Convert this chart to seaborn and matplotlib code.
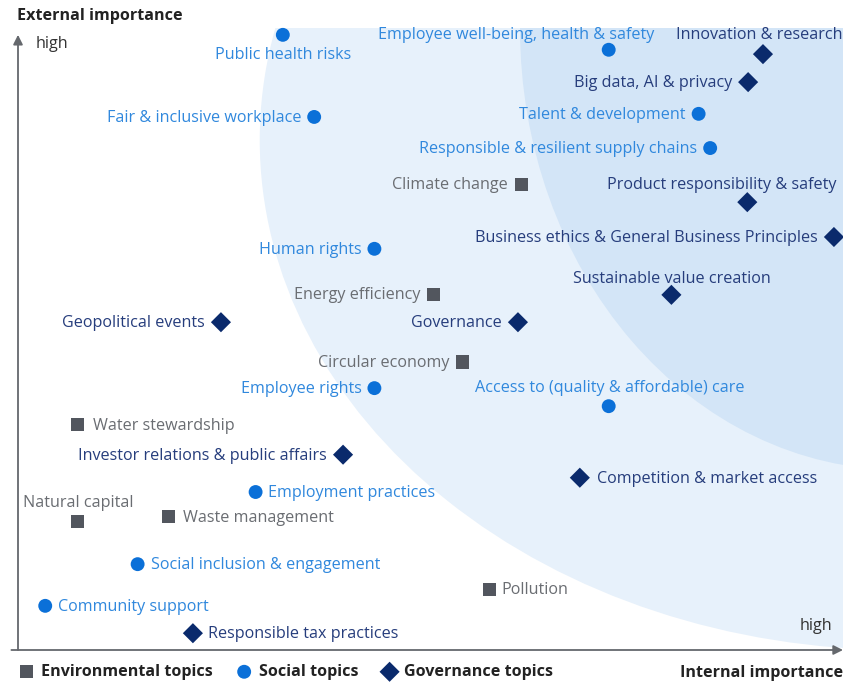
import matplotlib
matplotlib.use("Agg")
import matplotlib.pyplot as plt
from matplotlib.patches import Ellipse
import seaborn as sns
import pandas as pd

# materiality matrix: internal importance (x) vs external importance (y), 0-100
env_topics = ["Climate change", "Energy efficiency", "Circular economy", "Water stewardship",
              "Natural capital", "Waste management", "Pollution"]
env_internal = [61.0, 50.4, 53.9, 7.2, 7.2, 18.3, 57.1]
env_external = [74.9, 57.2, 46.3, 36.2, 20.6, 21.4, 9.8]

soc_topics = ["Public health risks", "Employee well-being, health & safety", "Fair & inclusive workplace",
              "Talent & development", "Responsible & resilient supply chains", "Human rights",
              "Employee rights", "Access to (quality & affordable) care", "Employment practices",
              "Social inclusion & engagement", "Community support"]
soc_internal = [32.1, 71.6, 35.9, 82.5, 83.9, 43.2, 43.2, 71.6, 28.8, 14.5, 3.3]
soc_external = [98.9, 96.5, 85.7, 86.2, 80.7, 64.5, 42.1, 39.2, 25.4, 13.8, 7.1]

gov_topics = ["Innovation & research", "Big data, AI & privacy", "Product responsibility & safety",
              "Business ethics & General Business Principles", "Sustainable value creation",
              "Geopolitical events", "Governance", "Investor relations & public affairs",
              "Competition & market access", "Responsible tax practices"]
gov_internal = [90.3, 88.5, 88.4, 98.9, 79.2, 24.6, 60.6, 39.4, 68.1, 21.2]
gov_external = [95.8, 91.3, 72.0, 66.4, 57.1, 52.7, 52.7, 31.4, 27.7, 2.7]

categories = ["Environmental topics", "Social topics", "Governance topics"]

df = pd.concat([
    pd.DataFrame({"topic": env_topics, "internal": env_internal, "external": env_external, "cat": categories[0]}),
    pd.DataFrame({"topic": soc_topics, "internal": soc_internal, "external": soc_external, "cat": categories[1]}),
    pd.DataFrame({"topic": gov_topics, "internal": gov_internal, "external": gov_external, "cat": categories[2]}),
], ignore_index=True)

marker_color = {categories[0]: "#52565e", categories[1]: "#0b70d8", categories[2]: "#0a2a6c"}
text_color = {categories[0]: "#6a6d72", categories[1]: "#3088dd", categories[2]: "#263d7c"}
marker_shape = {categories[0]: "s", categories[1]: "o", categories[2]: "D"}
marker_size = {categories[0]: 88, categories[1]: 100, categories[2]: 105}

# label placement: (dx, dy) in pixels from the point, horizontal alignment
left_c, left_d = (-13, -1, "right"), (-16, -1, "right")
placement = {
    "Public health risks": (0, -20, "center"),
    "Employee well-being, health & safety": (-93, 15, "center"),
    "Innovation & research": (-4, 19, "center"),
    "Product responsibility & safety": (-26, 17, "center"),
    "Sustainable value creation": (0, 16, "center"),
    "Access to (quality & affordable) care": (1, 18, "center"),
    "Natural capital": (1, 19, "center"),
    "Employment practices": (12, -1, "left"), "Social inclusion & engagement": (13, -1, "left"),
    "Community support": (13, -1, "left"), "Water stewardship": (16, -1, "left"),
    "Waste management": (14, -1, "left"), "Pollution": (12, -1, "left"),
    "Competition & market access": (17, -1, "left"), "Responsible tax practices": (15, -1, "left"),
}

sns.set_style("white")
plt.rcParams["font.family"] = ["Open Sans", "DejaVu Sans"]
FS = 11.6

fig = plt.figure(figsize=(8.43, 6.82), dpi=100)
ax = fig.add_axes([18 / 843, 1 - 650 / 682, 825 / 843, 622 / 682])
ax.set_xlim(0, 100)
ax.set_ylim(0, 100)
ax.axis("off")

# shaded importance zones
ax.add_patch(Ellipse((106.9, 82.0), 155.2, 164.0, facecolor="#e7f1fb", edgecolor="none", zorder=0))
ax.add_patch(Ellipse((106.9, 100.0), 92.1, 142.1, facecolor="#d3e5f7", edgecolor="none", zorder=0))

for cat in categories:
    sub = df[df["cat"] == cat]
    sns.scatterplot(data=sub, x="internal", y="external", marker=marker_shape[cat],
                    s=marker_size[cat], color=marker_color[cat], edgecolor="none",
                    label=cat, ax=ax, zorder=3, clip_on=False)
    for _, r in sub.iterrows():
        dx, dy, ha = placement.get(r["topic"], left_d if cat == categories[2] else left_c)
        ax.annotate(r["topic"], (r["internal"], r["external"]), xytext=(dx, dy),
                    textcoords="offset pixels", ha=ha, va="center", fontsize=FS,
                    color=text_color[cat], zorder=4)

# axis arrows
arrow = dict(arrowstyle="-|>", mutation_scale=14, lw=1.3, color="#65686d", shrinkA=0, shrinkB=0)
ax.annotate("", xy=(0, 98.9), xytext=(0, 0), arrowprops=arrow, annotation_clip=False)
ax.annotate("", xy=(100, 0), xytext=(-0.8, 0), arrowprops=arrow, annotation_clip=False)
ax.text(2.1, 97.5, "high", fontsize=FS, color="#333333", ha="left", va="center")
ax.text(98.7, 3.8, "high", fontsize=FS, color="#333333", ha="right", va="center")

fig.text(17 / 843, 1 - 16 / 682, "External importance", fontsize=FS, fontweight="bold",
         color="#222222", ha="left", va="center")
fig.text(1.0, 1 - 673 / 682, "Internal importance", fontsize=FS, fontweight="bold",
         color="#222222", ha="right", va="center")

ax.legend_.remove()
handles, labels = ax.get_legend_handles_labels()
leg = fig.legend(handles, labels, loc="center left", bbox_to_anchor=(12 / 843, 1 - 672 / 682),
                 ncol=3, frameon=False, handlelength=1.0, handletextpad=0.4,
                 columnspacing=1.45, borderaxespad=0, prop={"weight": "bold", "size": FS})
for t in leg.get_texts():
    t.set_color("#222222")

fig.savefig("out.png", dpi=100)
